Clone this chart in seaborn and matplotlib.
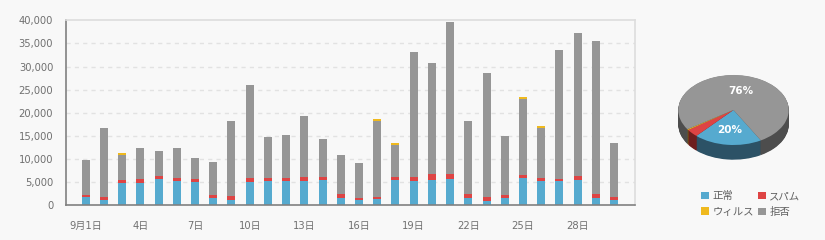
import numpy as np
import pandas as pd
import matplotlib
matplotlib.use("Agg")
import matplotlib.pyplot as plt
from matplotlib.patches import Patch
import seaborn as sns

# ---------------- data ----------------
days = [f"{d}日" for d in range(1, 31)]
tick_labels = ["9月1日", "4日", "7日", "10日", "13日", "16日", "19日", "22日", "25日", "28日"]
series_names = ["正常", "スパム", "ウィルス", "拒否"]

normal = [1800, 1150, 4830, 4830, 5690, 5260, 5045, 1585, 1150, 5045,
          5260, 5260, 5260, 5480, 1585, 1150, 1370, 5480, 5260, 5480,
          5690, 1585, 940, 1585, 5910, 5260, 5260, 5480, 1585, 1150]
spam = [430, 650, 650, 860, 650, 650, 645, 650, 870, 865,
        650, 650, 865, 645, 865, 435, 430, 645, 865, 1295,
        1085, 865, 860, 650, 650, 650, 430, 860, 865, 650]
virus = [0, 0, 430, 0, 0, 0, 0, 0, 0, 0,
         0, 0, 0, 0, 0, 0, 440, 440, 0, 0,
         0, 0, 0, 0, 430, 430, 0, 0, 0, 0]
reject = [7570, 14920, 5400, 6710, 5410, 6490, 4540, 7135, 16210, 20110,
          8860, 9290, 13185, 8215, 8430, 7565, 16430, 6915, 27025, 23995,
          32865, 15780, 26810, 12755, 16430, 10810, 27900, 30920, 33080, 11680]

pie_share = [20, 3.6, 0.4, 76]  # 正常, スパム, ウィルス, 拒否 (%)

colors = ["#56aacf", "#de4444", "#efb91e", "#969696"]
dark_colors = ["#2c5266", "#6e1e1e", "#7a5e10", "#4d4d4d"]

# ---------------- figure ----------------
sns.set_style("white")
plt.rcParams["font.family"] = ["DejaVu Sans", "Noto Sans CJK JP"]
bg = "#f8f8f8"

fig = plt.figure(figsize=(8.25, 2.4), dpi=100, facecolor=bg)
ax = fig.add_axes([65.7 / 825, 1 - 205.3 / 240, (635 - 65.7) / 825, (205.3 - 20.3) / 240])
ax.set_facecolor(bg)

df = pd.DataFrame({"day": days, "normal": normal, "spam": spam,
                   "virus": virus, "reject": reject})
c_blue = df["normal"]
c_red = c_blue + df["spam"]
c_gray = c_red + df["reject"]
c_yel = c_gray + df["virus"]

# grid lines first (behind bars)
for v in range(5000, 40000, 5000):
    ax.axhline(v, color="#e2e2e2", lw=1, ls=(0, (3, 3)), zorder=0)

layers = [(c_yel, colors[2]), (c_gray, colors[3]), (c_red, colors[1]), (c_blue, colors[0])]
for vals, col in layers:
    sns.barplot(x=df["day"], y=vals, color=col, width=0.44, saturation=1,
                linewidth=0, ax=ax, zorder=2)

ax.set_xlim(-1.1, 30.15)
ax.set_ylim(0, 40000)
ax.set_xlabel("")
ax.set_ylabel("")

ax.set_yticks(range(0, 40001, 5000))
ax.set_yticklabels([f"{v:,}" for v in range(0, 40001, 5000)])
ax.tick_params(axis="y", length=0, pad=9, labelsize=7.2, labelcolor="#707070")

xt = list(range(0, 30, 3))
ax.set_xticks(xt)
ax.set_xticklabels(tick_labels)
ax.tick_params(axis="x", length=5, width=1, color="#808080", pad=6,
               labelsize=7.2, labelcolor="#707070", direction="out")

for side in ["left", "bottom"]:
    ax.spines[side].set_color("#808080")
    ax.spines[side].set_linewidth(1.2)
for side in ["top", "right"]:
    ax.spines[side].set_visible(True)
    ax.spines[side].set_color("#dddddd")
    ax.spines[side].set_linewidth(1.2)

# ---------------- 3D-ish pie ----------------
pax = fig.add_axes([670 / 825, 1 - 175 / 240, 127 / 825, 115 / 240])
pax.set_facecolor(bg)
depth = 0.42
n_layers = 24
for d in np.linspace(depth, 0.01, n_layers):
    pax.pie(pie_share, colors=dark_colors, startangle=-60.3, counterclock=False,
            center=(0, -d), radius=1, wedgeprops=dict(linewidth=0, antialiased=True))


def fmt(p):
    return f"{p:.0f}%" if p >= 10 else ""


wedges, texts, autotexts = pax.pie(
    pie_share, colors=colors, startangle=-60.3, counterclock=False,
    center=(0, 0), radius=1, autopct=fmt, pctdistance=0.57,
    wedgeprops=dict(linewidth=0, antialiased=True),
    textprops=dict(color="white", fontsize=7.5, fontweight="bold"))
pax.set_aspect("auto")
pax.set_xlim(-1.15, 1.15)
pax.set_ylim(-65 / 35, 50 / 35)
pax.axis("off")

# ---------------- legend ----------------
# legend fills column-wise: order so rows read 正常/スパム, ウィルス/拒否
order = [0, 2, 1, 3]
handles = [Patch(facecolor=colors[i], edgecolor="none") for i in order]
labels = [series_names[i] for i in order]
leg = fig.legend(handles, labels, ncol=2, loc="upper left",
                 bbox_to_anchor=(696 / 825, 1 - 186 / 240), frameon=False,
                 handlelength=0.75, handleheight=0.75, handletextpad=0.35,
                 columnspacing=0.35, labelspacing=0.55, borderpad=0,
                 fontsize=7.5, labelcolor="#606060")

fig.savefig("out.png", dpi=100, facecolor=bg)
